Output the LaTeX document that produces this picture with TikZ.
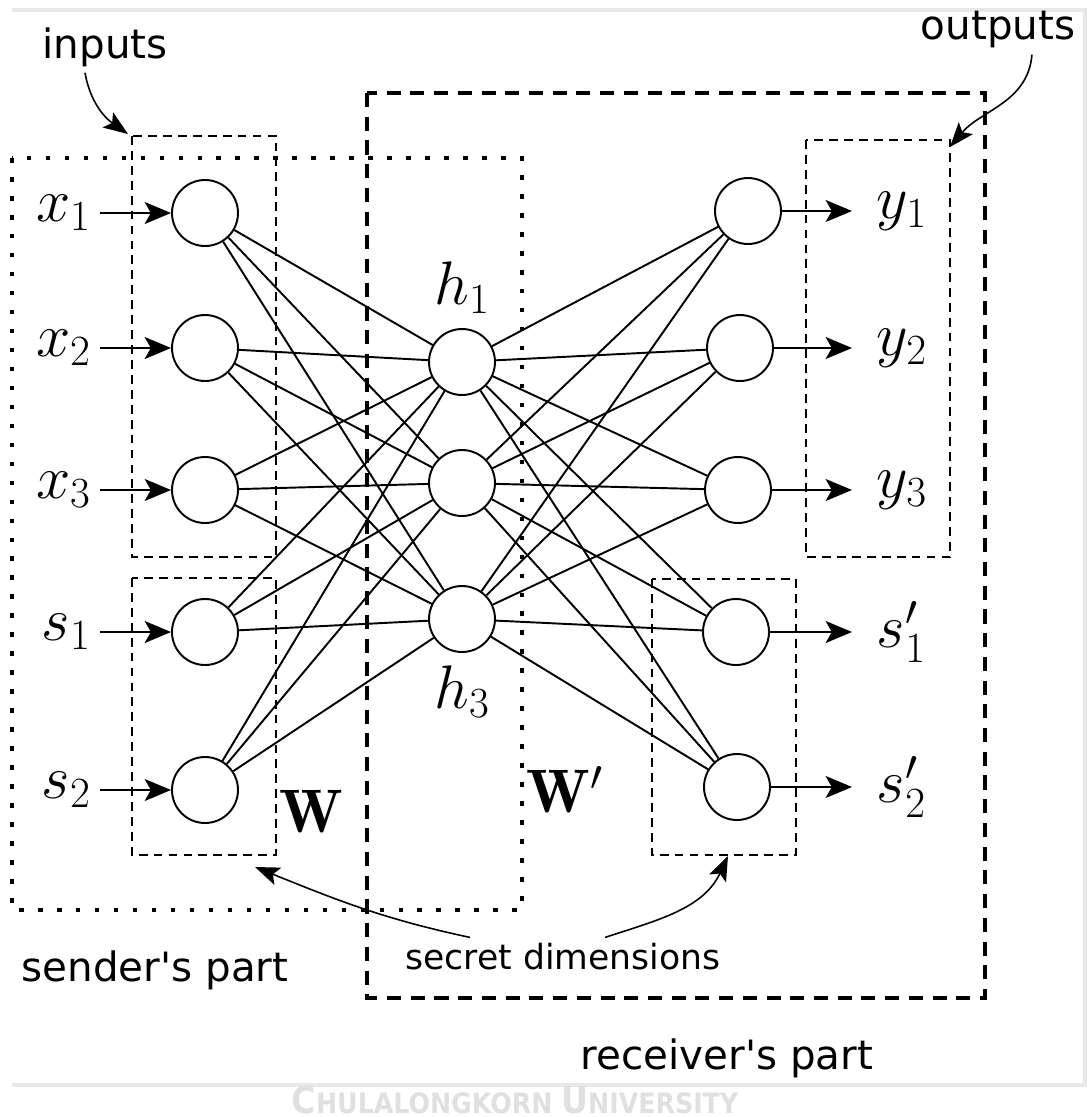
\RequirePackage{fix-cm}
\documentclass[tikz,border=0pt]{standalone}
\usepackage{fontspec}
\newfontfamily\notefont{DejaVu Sans}
\newfontfamily\markfont{DejaVu Sans Condensed}
\usepackage{tikz}
\usetikzlibrary{positioning,arrows.meta}

\begin{document}
\begin{tikzpicture}[x=0.02cm,y=-0.02cm]
	\tikzset{
		neuron/.style={circle,draw,line width=1.1pt,minimum size=1.32cm,inner sep=0pt},
		sym/.style={font=\fontsize{35}{42}\selectfont,inner sep=5pt},
		insym/.style={sym,anchor=east},
		outsym/.style={sym,anchor=west,inner xsep=14pt},
		note/.style={font=\notefont\fontsize{23}{28}\selectfont},
		link/.style={line width=1.1pt},
		feed/.style={line width=1.1pt,-{Stealth[length=15pt,width=12.5pt,inset=3.5pt]}},
		pointer/.style={line width=0.9pt,-{Stealth[length=14pt,width=10.5pt,inset=3pt]}},
		thinbox/.style={draw,line width=1.1pt,dash pattern=on 5pt off 3.5pt},
		thickbox/.style={draw,line width=2.3pt,dash pattern=on 8pt off 5.5pt},
		dotbox/.style={draw,line width=2.6pt,dash pattern=on 2.6pt off 8.2pt}
	}
	\useasboundingbox (0,0) rectangle (1089,1117);

	%% page frame and stamp
	\draw[black!9,line width=1.8pt] (12,10) -- (1085,10) -- (1085,1085) -- (12,1085);
	\node[black!12,font=\markfont\bfseries,inner sep=0pt] (stamp) at (515,1100)
		{\fontsize{21}{23}\selectfont C\fontsize{16}{18}\selectfont HULALONGKORN
		 \fontsize{21}{23}\selectfont U\fontsize{16}{18}\selectfont NIVERSITY};

	%% layers
	\node[neuron] (i1) at (205,213) {};
	\node[neuron] (i2) at (205,348) {};
	\node[neuron] (i3) at (205,490) {};
	\node[neuron] (i4) at (205,632) {};
	\node[neuron] (i5) at (205,790) {};

	\node[neuron] (h1) at (462,362) {};
	\node[neuron] (h2) at (462,483) {};
	\node[neuron] (h3) at (462,619) {};

	\node[neuron] (o1) at (748,211) {};
	\node[neuron] (o2) at (740,348) {};
	\node[neuron] (o3) at (738,490) {};
	\node[neuron] (o4) at (736,632) {};
	\node[neuron] (o5) at (737,787) {};

	\foreach \a in {1,...,5}
		\foreach \b in {1,2,3}
			\draw[link] (i\a) -- (h\b);
	\foreach \a in {1,2,3}
		\foreach \b in {1,...,5}
			\draw[link] (h\a) -- (o\b);

	%% input and output symbols
	\node[insym] (li1) at (100,213) {$x_1$};
	\node[insym] (li2) at (100,348) {$x_2$};
	\node[insym] (li3) at (100,490) {$x_3$};
	\node[insym] (li4) at (100,632) {$s_1$};
	\node[insym] (li5) at (100,790) {$s_2$};

	\node[outsym] (lo1) at (852,211) {$y_1$};
	\node[outsym] (lo2) at (852,348) {$y_2$};
	\node[outsym] (lo3) at (852,490) {$y_3$};
	\node[outsym] (lo4) at (852,632) {$s'_1$};
	\node[outsym] (lo5) at (852,787) {$s'_2$};

	\foreach \k in {1,...,5} {
		\draw[feed] (li\k) -- (i\k);
		\draw[feed] (o\k) -- (lo\k);
	}

	\node[sym,above=3pt of h1] (lh1) {$h_1$};
	\node[sym,below=2pt of h3] (lh3) {$h_3$};
	\node[sym] (lw) at (311,812) {$\mathbf{W}$};
	\node[sym] (lwp) at (565,790) {$\mathbf{W}'$};

	%% groupings
	\draw[dotbox] (12,158) rectangle (522,910);
	\draw[thickbox] (367,93) rectangle (985,998);
	\draw[thinbox] (132,136) rectangle (276,557);
	\draw[thinbox] (132,578) rectangle (276,855);
	\draw[thinbox] (806,140) rectangle (950,557);
	\draw[thinbox] (652,579) rectangle (796,855);

	%% notes
	\node[note] (lin) at (105,47) {inputs};
	\node[note] (lout) at (998,30) {outputs};
	\node[note] (lsend) at (155,970) {sender's part};
	\node[note] (lrecv) at (727,1058) {receiver's part};
	\node[note,font=\notefont\fontsize{19.7}{24}\selectfont] (lsec) at (563,957) {secret dimensions};

	\coordinate (inbox) at (128,134);
	\coordinate (outbox) at (950,147);
	\coordinate (secin) at (255,867);
	\coordinate (secout) at (728,856);

	\draw[pointer] ([xshift=-0.4cm]lin.south) to[out=-80,in=145] (inbox);
	\draw[pointer] ([xshift=0.68cm]lout.south) to[out=-95,in=50] (outbox);
	\draw[pointer] ([xshift=-1.86cm]lsec.north) to[out=168,in=-22] (secin);
	\draw[pointer] ([xshift=0.84cm]lsec.north) to[out=18,in=-115] (secout);
\end{tikzpicture}
\end{document}
